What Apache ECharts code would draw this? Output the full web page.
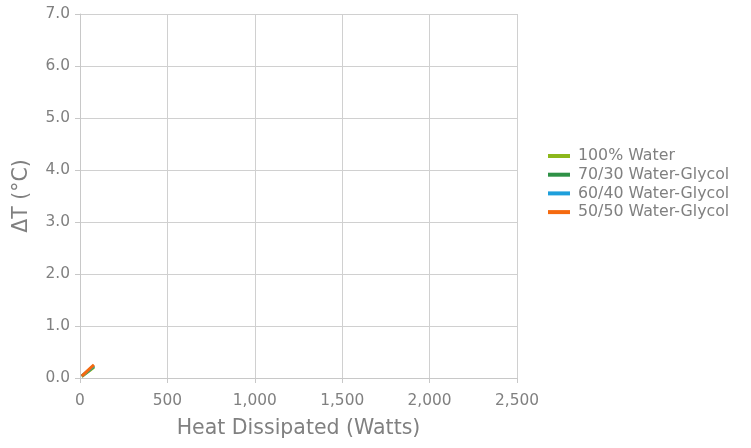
<!DOCTYPE html>
<html><head><meta charset="utf-8">
<script src="https://cdn.jsdelivr.net/npm/echarts@6/dist/echarts.min.js"></script>
<style>html,body{margin:0;padding:0;background:#fff}#c{width:751px;height:448px}</style>
</head><body><div id="c"></div>
<script>
const heat = [10, 20, 30, 40, 50, 60, 70, 80];
const water100 = [0.03, 0.055, 0.08, 0.105, 0.13, 0.155, 0.18, 0.205];
const wg7030 = [0.033, 0.06, 0.088, 0.115, 0.143, 0.17, 0.198, 0.225];
const wg6040 = [0.034, 0.063, 0.092, 0.121, 0.15, 0.179, 0.208, 0.237];
const wg5050 = [0.036, 0.067, 0.098, 0.129, 0.16, 0.191, 0.222, 0.253];
const names = ['100% Water', '70/30 Water-Glycol', '60/40 Water-Glycol', '50/50 Water-Glycol'];
const colors = ['#8cb71c', '#2e9146', '#1e9fdb', '#f56a0f'];
const sets = [water100, wg7030, wg6040, wg5050];
const font = 'DejaVu Sans';
const chart = echarts.init(document.getElementById('c'));
chart.setOption({
  animation: false,
  textStyle: {fontFamily: font},
  grid: {left: 80, top: 14, width: 437, height: 364, containLabel: false},
  legend: {
    orient: 'vertical', left: 548, top: 148, padding: 0, itemWidth: 22, itemHeight: 4, itemGap: 2.7,
    icon: 'rect',
    textStyle: {fontFamily: font, fontSize: 15.8, lineHeight: 16, color: '#808080', padding: [0,0,0,3]},
    data: names
  },
  xAxis: {
    type: 'value', min: 0, max: 2500, interval: 500,
    name: 'Heat Dissipated (Watts)', nameLocation: 'middle', nameGap: 40,
    nameTextStyle: {fontFamily: font, fontSize: 20.5, color: '#808080'},
    axisLine: {show: true, lineStyle: {color: '#c8c8c8'}},
    axisTick: {show: true, length: 5, lineStyle: {color: '#c8c8c8'}},
    axisLabel: {color: '#808080', fontSize: 15.4, fontFamily: font, margin: 15,
      formatter: v => v.toLocaleString('en-US')},
    splitLine: {show: true, lineStyle: {color: '#d0d0d0'}}
  },
  yAxis: {
    type: 'value', min: 0, max: 7, interval: 1,
    name: 'ΔT (°C)', nameLocation: 'middle', nameGap: 48,
    nameTextStyle: {fontFamily: font, fontSize: 20.5, color: '#808080'},
    axisLine: {show: true, lineStyle: {color: '#c8c8c8'}},
    axisTick: {show: true, length: 5, inside: false, lineStyle: {color: '#c8c8c8'}},
    axisLabel: {color: '#808080', fontSize: 15.4, fontFamily: font, margin: 10,
      formatter: v => v.toFixed(1)},
    splitLine: {show: true, lineStyle: {color: '#d0d0d0'}}
  },
  series: sets.map((d, i) => ({
    name: names[i], type: 'line', symbol: 'none',
    data: heat.map((h, j) => [h, d[j]]),
    lineStyle: {color: colors[i], width: 3},
    itemStyle: {color: colors[i]}
  }))
});
</script></body></html>
